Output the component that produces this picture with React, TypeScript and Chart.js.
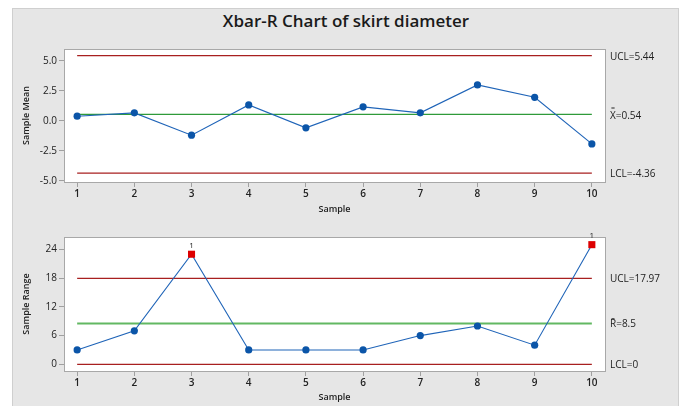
import React, { useEffect, useRef } from "react";
import { Chart, registerables } from "chart.js";
Chart.register(...registerables);

const samples = [1, 2, 3, 4, 5, 6, 7, 8, 9, 10];
const sampleMeans = [0.39, 0.67, -1.19, 1.33, -0.58, 1.17, 0.67, 3.0, 1.97, -1.92];
const sampleRanges = [3, 7, 23, 3, 3, 3, 6, 8, 4, 25];
const meanTicks = [-5, -2.5, 0, 2.5, 5];
const rangeTicks = [0, 6, 12, 18, 24];
const meanUCL = 5.44;
const meanCL = 0.54;
const meanLCL = -4.36;
const rangeUCL = 17.97;
const rangeCL = 8.5;
const rangeLCL = 0;
const meanLabels = ["UCL=5.44", "X=0.54", "LCL=-4.36"];
const rangeLabels = ["UCL=17.97", "R\u0304=8.5", "LCL=0"];
const FONT = "'Open Sans', 'Noto Sans', sans-serif";

type Cfg = {
  values: number[];
  ticks: number[];
  ucl: number;
  cl: number;
  lcl: number;
  labels: string[];
  doubleBar: boolean;
  yTitle: string;
  yMin: number;
  yMax: number;
  fmt: (v: number) => string;
  clColor: string;
  clWidth: number;
  padTop: number;
  xHeight: number;
};

const framePlugin = {
  id: "frame",
  beforeDraw(chart: any) {
    const { ctx, chartArea: a } = chart;
    ctx.save();
    ctx.fillStyle = "#ffffff";
    ctx.fillRect(a.left, a.top, a.right - a.left, a.bottom - a.top);
    ctx.restore();
  },
  beforeDatasetsDraw(chart: any) {
    const { ctx, chartArea: a } = chart;
    ctx.save();
    ctx.strokeStyle = "#a8a8a8";
    ctx.lineWidth = 1;
    ctx.strokeRect(Math.round(a.left) + 0.5, Math.round(a.top) + 0.5, Math.round(a.right - a.left), Math.round(a.bottom - a.top));
    ctx.restore();
  },
};

function makeConfig(c: Cfg): any {
  const flagged = (v: number) => v > c.ucl || v < c.lcl;
  const hline = (y: number, color: string, width: number) => ({
    data: [
      { x: samples[0], y },
      { x: samples[samples.length - 1], y },
    ],
    showLine: true,
    borderColor: color,
    borderWidth: width,
    pointRadius: 0,
  });
  const labelPlugin = {
    id: "sideLabels",
    afterDraw(chart: any) {
      const { ctx, chartArea: a, scales } = chart;
      const ys = scales.y;
      ctx.save();
      ctx.fillStyle = "#222";
      ctx.font = `10px ${FONT}`;
      ctx.textBaseline = "middle";
      ctx.textAlign = "left";
      [c.ucl, c.cl, c.lcl].forEach((v, i) => {
        const isCenter = i === 1 && c.doubleBar;
        const y = ys.getPixelForValue(v) + (isCenter ? 2 : 1);
        ctx.fillText(c.labels[i], a.right + 5, y);
        if (isCenter) {
          const xw = ctx.measureText("X").width;
          ctx.save();
          ctx.font = `7px ${FONT}`;
          ctx.textAlign = "center";
          ctx.fillText("=", a.right + 5 + xw / 2, y - 8);
          ctx.restore();
        }
      });
      ctx.font = `8px ${FONT}`;
      ctx.textAlign = "center";
      ctx.textBaseline = "bottom";
      c.values.forEach((v, i) => {
        if (flagged(v)) {
          ctx.fillText("1", scales.x.getPixelForValue(samples[i]), ys.getPixelForValue(v) - 5);
        }
      });
      ctx.restore();
    },
  };
  return {
    type: "scatter",
    data: {
      datasets: [
        {
          data: samples.map((x, i) => ({ x, y: c.values[i] })),
          showLine: true,
          borderColor: "#1f64b8",
          borderWidth: 1.1,
          pointStyle: (ctx: any) => (flagged(c.values[ctx.dataIndex]) ? "rect" : "circle"),
          pointRadius: (ctx: any) => (flagged(c.values[ctx.dataIndex]) ? 5 : 3.6),
          pointBackgroundColor: (ctx: any) => (flagged(c.values[ctx.dataIndex]) ? "#dd0000" : "#0b55a8"),
          pointBorderColor: (ctx: any) => (flagged(c.values[ctx.dataIndex]) ? "#dd0000" : "#0b55a8"),
          pointBorderWidth: 0,
        },
        hline(c.cl, c.clColor, c.clWidth),
        hline(c.ucl, "#a82020", 1.2),
        hline(c.lcl, "#a82020", 1.2),
      ],
    },
    options: {
      animation: false,
      responsive: false,
      maintainAspectRatio: false,
      layout: { padding: { left: 0, right: 76, top: c.padTop, bottom: 0 } },
      plugins: { legend: { display: false }, tooltip: { enabled: false }, title: { display: false } },
      scales: {
        x: {
          type: "linear",
          min: 0.77,
          max: 10.23,
          afterBuildTicks: (s: any) => {
            s.ticks = samples.map((v) => ({ value: v }));
          },
          afterFit: (s: any) => {
            s.height = c.xHeight;
          },
          grid: { display: true, drawOnChartArea: false, drawTicks: true, tickLength: 5, color: "#a0a0a0" },
          border: { display: false },
          ticks: {
            padding: 1,
            color: "#222",
            font: { family: FONT, size: 10, weight: "600" },
            callback: (v: any) => String(v),
            maxRotation: 0,
          },
          title: {
            display: true,
            text: "Sample",
            color: "#222",
            font: { family: FONT, size: 9, weight: "600" },
            padding: { top: 0, bottom: 3 },
          },
        },
        y: {
          min: c.yMin,
          max: c.yMax,
          afterBuildTicks: (s: any) => {
            s.ticks = c.ticks.map((v) => ({ value: v }));
          },
          afterFit: (s: any) => {
            s.width = 64;
          },
          grid: { display: true, drawOnChartArea: false, drawTicks: true, tickLength: 5, color: "#a0a0a0" },
          border: { display: false },
          ticks: {
            padding: 2,
            color: "#222",
            font: { family: FONT, size: 10 },
            callback: (v: any) => c.fmt(Number(v)),
          },
          title: {
            display: true,
            text: c.yTitle,
            color: "#222",
            font: { family: FONT, size: 9, weight: "600" },
            padding: { top: 21, bottom: 0 },
          },
        },
      },
    },
    plugins: [framePlugin, labelPlugin],
  };
}

export default function App() {
  const topRef = useRef<HTMLCanvasElement>(null);
  const botRef = useRef<HTMLCanvasElement>(null);

  useEffect(() => {
    const top = new Chart(
      topRef.current!,
      makeConfig({
        values: sampleMeans,
        ticks: meanTicks,
        ucl: meanUCL,
        cl: meanCL,
        lcl: meanLCL,
        labels: meanLabels,
        doubleBar: true,
        yTitle: "Sample Mean",
        yMin: -5.1,
        yMax: 6.0,
        fmt: (v) => v.toFixed(1),
        clColor: "#2f9a3a",
        clWidth: 1.3,
        padTop: 13,
        xHeight: 36,
      })
    );
    const bot = new Chart(
      botRef.current!,
      makeConfig({
        values: sampleRanges,
        ticks: rangeTicks,
        ucl: rangeUCL,
        cl: rangeCL,
        lcl: rangeLCL,
        labels: rangeLabels,
        doubleBar: false,
        yTitle: "Sample Range",
        yMin: -1.4,
        yMax: 26.6,
        fmt: (v) => String(v),
        clColor: "#62b862",
        clWidth: 2,
        padTop: 15,
        xHeight: 35,
      })
    );
    return () => {
      top.destroy();
      bot.destroy();
    };
  }, []);

  return (
    <div style={{ position: "fixed", left: 0, top: 0, width: 681, height: 406, background: "#ffffff", overflow: "hidden" }}>
      <div
        style={{
          position: "absolute",
          left: 12,
          top: 8,
          width: 665,
          height: 410,
          background: "#e6e6e6",
          border: "1px solid #cfcfcf",
        }}
      />
      <div
        style={{
          position: "absolute",
          left: 12,
          top: 9,
          width: 668,
          textAlign: "center",
          fontFamily: FONT,
          fontWeight: 600,
          fontSize: 17,
          color: "#1a1a1a",
          lineHeight: "24px",
        }}
      >
        Xbar-R Chart of skirt diameter
      </div>
      <canvas ref={topRef} width={681} height={182} style={{ position: "absolute", left: 0, top: 36, width: 681, height: 182 }} />
      <canvas ref={botRef} width={681} height={184} style={{ position: "absolute", left: 0, top: 222, width: 681, height: 184 }} />
    </div>
  );
}
